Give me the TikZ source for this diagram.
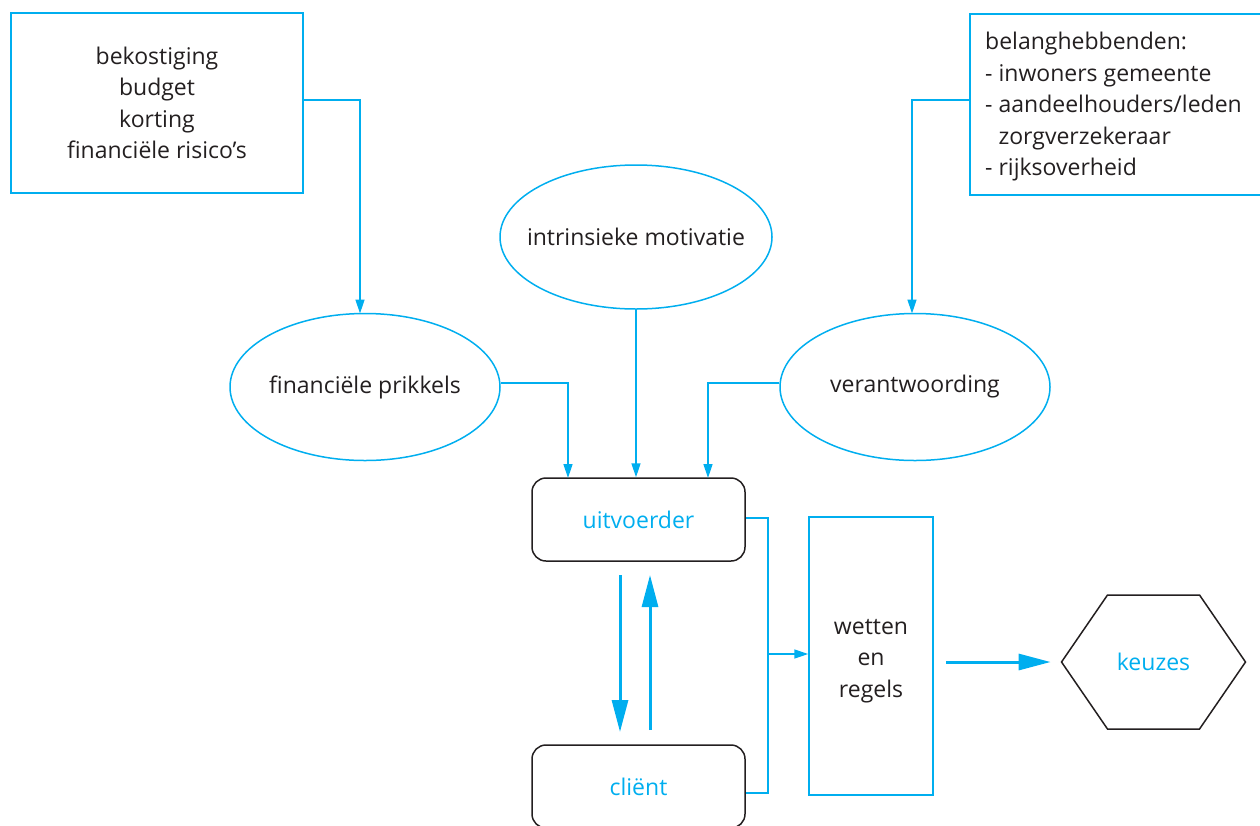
\documentclass[tikz,border=0pt]{standalone}
\usepackage{fontspec}
\setmainfont{Open Sans}
\usetikzlibrary{arrows.meta,shapes.geometric}
\definecolor{cyanb}{RGB}{0,174,239}
\definecolor{txt}{RGB}{35,31,32}
\tikzset{
  x=1pt,y=-1pt,
  every node/.style={font=\fontsize{23}{31.5}\selectfont, text=txt},
  bluebox/.style={draw=cyanb, line width=1.5pt, inner sep=0pt},
  oval/.style={ellipse, draw=cyanb, line width=1.5pt, inner sep=0pt},
  roundbox/.style={draw=txt, line width=1.5pt, rounded corners=14pt, inner sep=0pt, text=cyanb},
  conn/.style={draw=cyanb, line width=1.5pt, -{Triangle[length=14pt,width=9pt]}},
  plain/.style={draw=cyanb, line width=1.5pt},
  thick/.style={draw=cyanb, line width=3pt, -{Triangle[length=32pt,width=16pt]}},
}
\begin{document}
\begin{tikzpicture}
\useasboundingbox (0,0) rectangle (1260,825);
% top boxes
\node[bluebox, minimum width=292pt, minimum height=180pt, align=center] (fin) at (157,103)
  {bekostiging\\budget\\korting\\financiële risico’s};
\node[bluebox, minimum width=292pt, minimum height=181pt, anchor=north west] (bel) at (969,13) {};
\node[anchor=north west, align=left, inner sep=0pt] (beltxt) at (985,32)
  {belanghebbenden:\\- inwoners gemeente\\- aandeelhouders/leden\\\phantom{- }zorgverzekeraar\\- rijksoverheid};
% ellipses
\node[oval, minimum width=272pt, minimum height=144pt] (intr) at (636,237) {};
\node (intrtxt) at (636,237) {intrinsieke motivatie};
\node[oval, minimum width=270pt, minimum height=147pt] (prik) at (365,387) {};
\node (priktxt) at (365,387) {financiële prikkels};
\node[oval, minimum width=270pt, minimum height=147pt] (verant) at (915,387) {};
\node (veranttxt) at (915,387) {verantwoording};
% uitvoerder / client
\node[roundbox, minimum width=213pt, minimum height=83pt] (uitv) at (638.5,519.5) {uitvoerder};
\node[roundbox, minimum width=213pt, minimum height=83pt] (client) at (638.5,786.5) {cliënt};
% wetten
\node[bluebox, minimum width=124pt, minimum height=278pt] (wet) at (871,656) {};
\node[align=center] (wettxt) at (871,661) {wetten\\en\\regels};
% keuzes
\node[regular polygon, regular polygon sides=6, draw=txt, line width=1.5pt,
  minimum size=184pt, inner sep=0pt, yscale=0.841] (keuz) at (1153.5,662) {};
\node[text=cyanb] (keuztxt) at (1153.5,662) {keuzes};
% connectors
\coordinate (f1) at (360,100);
\draw[conn] (fin.east |- f1) -| (360,313.5);
\draw[conn] (bel.west |- f1) -| (912,313.5);
\draw[conn] (prik.east |- 0,383) -| (568,478);
\draw[conn] (intr.south) -- (uitv.north -| intr.south);
\draw[conn] (verant.west |- 0,383) -| (708,478);
\coordinate (j) at (768,654);
\draw[plain] (uitv.east |- 0,518) -| (768,793) -- (client.east |- 0,793);
\draw[conn] (j) -- (wet.west |- j);
\draw[thick] (620,575) -- (620,732);
\draw[thick] (650,730) -- (650,575);
\coordinate (kin) at ([xshift=-10pt]keuz.west);
\draw[thick] (946,662) -- (kin);
\end{tikzpicture}
\end{document}
